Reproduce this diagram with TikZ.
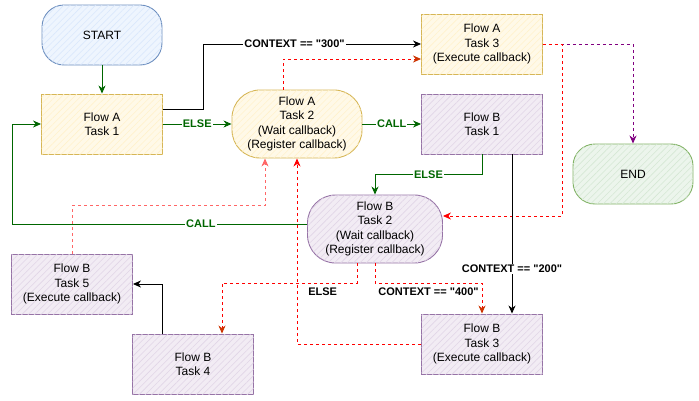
\documentclass[tikz,border=0pt]{standalone}
\usepackage{fontspec}
\setmainfont{Liberation Sans}[Ligatures=TeXOff]
\usetikzlibrary{arrows.meta,patterns.meta,positioning}

\definecolor{blueline}{HTML}{6C8EBF}
\definecolor{bluefill}{HTML}{DAE8FC}
\definecolor{yellowline}{HTML}{D6B656}
\definecolor{yellowfill}{HTML}{FFF2CC}
\definecolor{purpleline}{HTML}{9673A6}
\definecolor{purplefill}{HTML}{E1D5E7}
\definecolor{greenline}{HTML}{82B366}
\definecolor{greenfill}{HTML}{D5E8D4}
\definecolor{edgegreen}{HTML}{006600}
\definecolor{edgepurple}{HTML}{800080}
\definecolor{edgered}{HTML}{FF0000}
\definecolor{edgepink}{HTML}{FF6666}
\definecolor{tiporange}{HTML}{CC3300}

\begin{document}
\begin{tikzpicture}[
    x=1pt, y=-1pt,
    font=\fontsize{12}{14.4}\selectfont,
    box/.style={rectangle, draw, line width=0.9pt, minimum width=121pt, minimum height=60pt, align=center, inner sep=2pt},
    hatch/.style={fill=#1!45, postaction={pattern={Lines[angle=45,distance=4.5pt,line width=0.6pt]}, pattern color=#1}},
    yellowbox/.style={box, draw=yellowline, hatch=yellowfill},
    purplebox/.style={box, draw=purpleline, hatch=purplefill},
    terminal/.style={box, rounded corners=22pt, minimum width=120pt},
    waitbox/.style={box, rounded corners=28pt, minimum height=68pt},
    arrow/.style={-{Stealth[length=8pt,width=7pt,inset=2.5pt]}, line width=0.9pt},
    garrow/.style={arrow, draw=edgegreen},
    barrow/.style={arrow, draw=black},
    rarrow/.style={arrow, draw=edgered, dashed, dash pattern=on 3pt off 3pt},
    oarrow/.style={rarrow, -{Stealth[length=8pt,width=7pt,inset=2.5pt,color=tiporange]}},
    lbl/.style={font=\bfseries\fontsize{11}{13}\selectfont, fill=white, inner sep=1pt}
]
\useasboundingbox (0,0) rectangle (699,400);

% Start and end
\node[terminal, draw=blueline, hatch=bluefill] (start) at (102,35) {START};
\node[terminal, draw=greenline, hatch=greenfill] (end) at (633,174) {END};

% Flow A
\node[yellowbox] (a1) at (102,124) {Flow A\\Task 1};
\node[yellowbox, waitbox, minimum width=130pt] (a2) at (297,124) {Flow A\\Task 2\\(Wait callback)\\(Register callback)};
\node[yellowbox] (a3) at (482,44) {Flow A\\Task 3\\(Execute callback)};

% Flow B
\node[purplebox] (b1) at (482,124) {Flow B\\Task 1};
\node[purplebox, waitbox, minimum width=135pt] (b2) at (375,229) {Flow B\\Task 2\\(Wait callback)\\(Register callback)};
\node[purplebox] (b3) at (482,344) {Flow B\\Task 3\\(Execute callback)};
\node[purplebox] (b4) at (193,364) {Flow B\\Task 4};
\node[purplebox] (b5) at (72,284) {Flow B\\Task 5\\(Execute callback)};

% Flow A arrows
\draw[garrow] (start) -- (a1);
\draw[barrow] ([yshift=15pt]a1.east) -- ++(40,0) |- (a3.west) node[lbl, pos=0.71] {CONTEXT == "300"};
\draw[garrow] (a1) -- (a2) node[lbl, midway, text=edgegreen] {ELSE};
\draw[oarrow] ([xshift=-14pt]a2.north) |- ([yshift=-15pt]a3.west);
\draw[garrow] (a2) -- (b1) node[lbl, midway, text=edgegreen] {CALL};
\draw[arrow, draw=edgepurple, dashed, dash pattern=on 3pt off 3pt] (a3.east) -| (end.north);
\draw[rarrow] (a3.east) -- ++(19,0) |- ([yshift=13pt]b2.east);

% Flow B arrows
\draw[garrow] (b1.south) -- ++(0,20) -| (b2.north) node[lbl, pos=0.25, text=edgegreen] {ELSE};
\draw[barrow] ([xshift=30pt]b1.south) -- ([xshift=30pt]b3.north) node[lbl, pos=0.72] {CONTEXT == "200"};
\draw[garrow] ([yshift=5pt]b2.west) -- node[lbl, pos=0.36, text=edgegreen] {CALL} ++(-295,0) |- (a1.west);
\draw[oarrow] ([xshift=-18pt]b2.south) -- ++(0,20) -| ([xshift=29pt]b4.north) node[lbl, pos=0.127, below=3pt, fill=none] {ELSE};
\draw[oarrow] (b2.south) -- ++(0,20) -| (b3.north) node[lbl, pos=0.25, below=3pt, fill=none] {CONTEXT == "400"};
\draw[rarrow] (b3.west) -| (a2.south);
\draw[rarrow, draw=edgepink] (b5.north) -- ++(0,-48) -| ([xshift=-32pt]a2.south);
\draw[barrow] ([xshift=-31pt]b4.north) |- (b5.east);

\end{tikzpicture}
\end{document}
